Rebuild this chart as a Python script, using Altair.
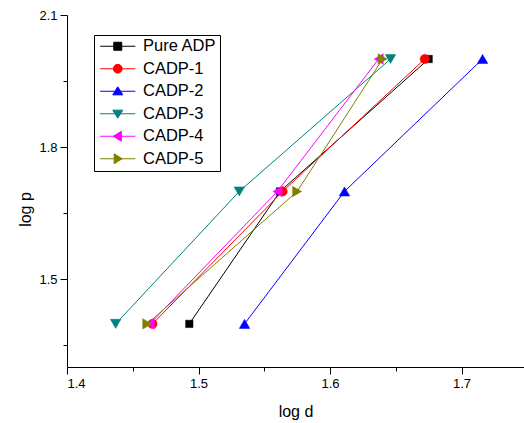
import altair as alt
import pandas as pd

series = ["Pure ADP", "CADP-1", "CADP-2", "CADP-3", "CADP-4", "CADP-5"]
log_p = [1.398, 1.699, 2.0]
log_d_pure = [1.493, 1.562, 1.675]
log_d_c1 = [1.465, 1.564, 1.672]
log_d_c2 = [1.535, 1.611, 1.716]
log_d_c3 = [1.437, 1.531, 1.646]
log_d_c4 = [1.463, 1.560, 1.637]
log_d_c5 = [1.461, 1.575, 1.640]
log_d_all = [log_d_pure, log_d_c1, log_d_c2, log_d_c3, log_d_c4, log_d_c5]

colors = ["#000000", "#FF0000", "#0000FF", "#008080", "#FF00FF", "#808000"]
shapes = ["square", "circle", "triangle-up", "triangle-down", "triangle-left", "triangle-right"]
sizes = [55, 85, 110, 110, 110, 110]
seg = "M-4.4,0H4.4"
legend_paths = [
    seg + "M-1,-1H1V1H-1Z",
    seg + "M-1.1,0A1.1,1.1,0,1,1,1.1,0A1.1,1.1,0,1,1,-1.1,0Z",
    seg + "M0,-1.1L1.25,0.9H-1.25Z",
    seg + "M0,1.1L1.25,-0.9H-1.25Z",
    seg + "M-1.1,0L0.9,-1.25V1.25Z",
    seg + "M1.1,0L-0.9,-1.25V1.25Z",
]
x_ticks = [1.4, 1.45, 1.5, 1.55, 1.6, 1.65, 1.7]
y_ticks = [1.35, 1.5, 1.65, 1.8, 1.95, 2.1]

rows = []
for s, xs in zip(series, log_d_all):
    for xv, yv in zip(xs, log_p):
        rows.append({"series": s, "logd": xv, "logp": yv})
df = pd.DataFrame(rows)

major = "abs(datum.value*10 - round(datum.value*10)) < 0.001"
lab = f"{major} ? format(datum.value, '.1f') : ''"
tsize = {"condition": {"test": major, "value": 7}, "value": 4}

x_enc = alt.X("logd:Q", scale=alt.Scale(domain=[1.4, 1.7475], nice=False, zero=False),
              axis=alt.Axis(title="log d", values=x_ticks, labelExpr=lab, tickSize=tsize, grid=False,
                            labelPadding=3, titleBaseline="middle", titleY=44))
y_enc = alt.Y("logp:Q", scale=alt.Scale(domain=[1.3, 2.1], nice=False, zero=False),
              axis=alt.Axis(title="log p", values=y_ticks, labelExpr=lab, tickSize=tsize, grid=False,
                            labelPadding=3, titleBaseline="middle", titleX=-42, titleY=194))

base = alt.Chart(df)
layers = []
for s, c, sh, sz in zip(series, colors, shapes, sizes):
    sub = base.transform_filter(alt.datum.series == s)
    layers.append(sub.mark_line(color=c, strokeWidth=1).encode(x=x_enc, y=y_enc))
    layers.append(sub.mark_point(shape=sh, filled=True, color=c, size=sz, opacity=1,
                                 stroke=c, strokeWidth=0.5).encode(x=x_enc, y=y_enc))

leg = alt.Legend(title=None, orient="none", legendX=27, legendY=20, padding=3,
                 strokeColor="black", fillColor="white", symbolSize=64, symbolOffset=12.5,
                 symbolStrokeWidth=1, labelOffset=17, labelFontSize=16.5,
                 labelFont="Liberation Sans", labelColor="black", rowPadding=5.5)
legend_layer = base.transform_filter("false").mark_point(filled=True, opacity=1, strokeWidth=1).encode(
    x=x_enc, y=y_enc,
    fill=alt.Fill("series:N", scale=alt.Scale(domain=series, range=colors), legend=leg),
    stroke=alt.Stroke("series:N", scale=alt.Scale(domain=series, range=colors), legend=leg),
    shape=alt.Shape("series:N", scale=alt.Scale(domain=series, range=legend_paths), legend=leg),
)
layers.append(legend_layer)

chart = alt.layer(*layers).properties(
    width=457, height=352,
    autosize=alt.AutoSizeParams(type="none"),
    padding={"left": 67, "top": 15, "right": 0, "bottom": 56},
).configure(background="white").configure_view(stroke=None).configure_axis(
    grid=False, domainColor="black", tickColor="black", domainWidth=1, tickWidth=1,
    labelColor="black", titleColor="black", labelFont="Liberation Sans", labelFontSize=13,
    titleFont="Liberation Sans", titleFontSize=16, titleFontWeight="normal",
)

chart.save("out.html", embed_options={"renderer": "svg", "actions": False})
